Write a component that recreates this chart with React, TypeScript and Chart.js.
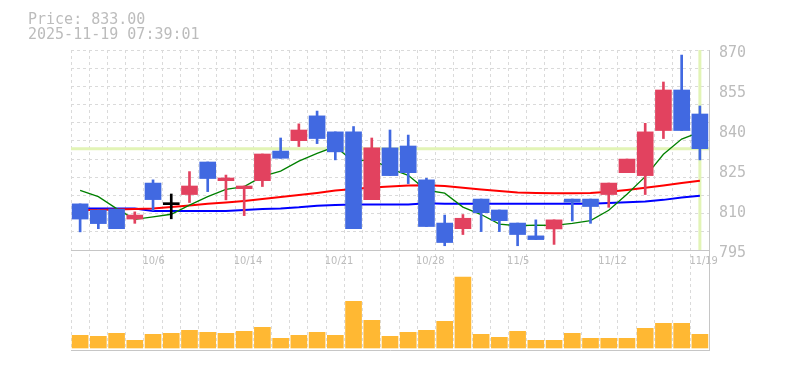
import React, { useEffect, useRef } from 'react';
import { Chart, registerables } from 'chart.js';

Chart.register(...registerables);

// ---- data ----
const dates = [
  '9/30', '10/1', '10/2', '10/3', '10/6', '10/7', '10/8', '10/9', '10/10', '10/14',
  '10/15', '10/16', '10/17', '10/20', '10/21', '10/22', '10/23', '10/24', '10/27', '10/28',
  '10/29', '10/30', '10/31', '11/4', '11/5', '11/6', '11/7', '11/10', '11/11', '11/12',
  '11/13', '11/14', '11/17', '11/18', '11/19',
];
const opens = [
  812.3, 810.0, 810.3, 806.6, 820.1, 812.0, 815.8, 828.0, 821.0, 818.0,
  821.0, 832.1, 836.0, 845.3, 839.3, 839.3, 813.9, 833.3, 834.0, 821.3,
  805.1, 803.0, 814.1, 810.0, 805.1, 800.3, 802.9, 814.1, 814.1, 815.8,
  824.0, 822.9, 839.8, 855.0, 846.0,
];
const highs = [
  812.3, 810.0, 810.3, 809.3, 821.3, 816.0, 824.4, 828.0, 823.1, 819.0,
  831.0, 837.0, 842.3, 847.1, 839.3, 841.3, 837.0, 840.0, 838.1, 821.9,
  808.1, 808.3, 814.1, 810.0, 805.1, 806.3, 806.3, 814.1, 814.1, 820.1,
  829.1, 842.5, 858.0, 868.1, 849.0,
];
const lows = [
  801.8, 803.0, 803.0, 805.0, 809.8, 806.7, 812.8, 816.9, 813.8, 807.9,
  818.8, 829.4, 833.8, 834.9, 828.8, 803.0, 813.9, 822.9, 819.9, 803.8,
  796.6, 800.8, 801.9, 801.9, 796.6, 798.9, 797.1, 805.9, 805.0, 811.0,
  824.0, 815.8, 836.8, 839.8, 828.8,
];
const closes = [
  806.6, 804.9, 803.0, 808.1, 813.9, 812.0, 819.0, 821.8, 822.0, 819.0,
  831.0, 829.4, 840.0, 836.8, 831.8, 803.0, 833.3, 822.9, 824.0, 803.8,
  797.8, 806.9, 809.0, 806.0, 800.8, 798.9, 806.3, 812.9, 811.3, 820.1,
  829.1, 839.3, 855.0, 839.8, 833.0,
];
const volumes = [
  3800, 3500, 4400, 2300, 4100, 4400, 5300, 4700, 4400, 5000,
  6200, 2900, 3800, 4700, 3800, 14000, 8300, 3500, 4700, 5300,
  8000, 21300, 4100, 3200, 5000, 2300, 2300, 4400, 2900, 2900,
  2900, 5900, 7400, 7400, 4100,
];
const ma5 = [
  817.4, 815.0, 810.5, 806.5, 807.4, 808.4, 811.8, 815.0, 817.7, 818.8,
  822.6, 824.6, 828.3, 831.2, 833.8, 828.2, 829.0, 825.5, 823.0, 817.4,
  816.3, 811.1, 808.3, 804.7, 804.1, 804.3, 804.2, 805.0, 806.0, 809.9,
  815.9, 822.5, 830.9, 836.6, 839.2,
];
const ma25 = [
  810.0, 810.0, 810.2, 810.4, 810.6, 811.1, 811.7, 812.3, 812.8, 813.4,
  814.1, 814.9, 815.6, 816.4, 817.3, 817.9, 818.4, 818.8, 819.2, 819.3,
  819.0, 818.3, 817.7, 817.1, 816.6, 816.4, 816.3, 816.3, 816.4, 816.8,
  817.5, 818.3, 819.2, 820.1, 821.0,
];
const ma75 = [
  810.6, 810.6, 810.6, 810.6, 809.6, 809.6, 809.6, 809.6, 809.6, 810.0,
  810.4, 810.6, 811.0, 811.6, 811.9, 812.1, 812.1, 812.1, 812.1, 812.5,
  812.3, 812.3, 812.3, 812.3, 812.3, 812.3, 812.3, 812.3, 812.3, 812.6,
  812.9, 813.2, 813.8, 814.7, 815.3,
];
const priceTicks = [795, 810, 825, 840, 855, 870];
const shownDates = ['10/6', '10/14', '10/21', '10/28', '11/5', '11/12', '11/19'];
const currentPrice = 833;
const headerLines = ['Price: 833.00', '2025-11-19 07:39:01'];

// ---- styling / scale setup ----
const PRICE_LOW = 795;
const PRICE_HIGH = 870;
const PRICE_MIN = 757.5; // leaves room for the volume pane below
const GRID_DIVS = 11;
const VOL_MIN = -600;
const VOL_MAX = 89400;

const UP = '#e2425f';
const DOWN = '#4169e1';
const EVEN = '#000000';
const VOL = '#ffb833';
const GRID = '#dadada';
const AXIS = '#c6c6c6';
const TEXT = '#bcbcbc';
const CUR = '#e2f4b6';
const MONO = '"DejaVu Sans Mono", "Liberation Mono", monospace';
const NARROW = '"DejaVu Sans Condensed", "DejaVu Sans Mono", monospace';

const candleColors = closes.map((c, i) => (c > opens[i] ? UP : c < opens[i] ? DOWN : EVEN));
const gridValues = Array.from({ length: GRID_DIVS }, (_, k) => PRICE_LOW + ((k + 1) * (PRICE_HIGH - PRICE_LOW)) / GRID_DIVS);

const overlay = {
  id: 'overlay',
  beforeDatasetsDraw(chart: any) {
    const { ctx, chartArea, scales } = chart;
    const y = scales.y.getPixelForValue(currentPrice);
    const x = scales.x.getPixelForValue(dates.length - 1);
    const yb = scales.y.getPixelForValue(PRICE_LOW);
    ctx.save();
    ctx.strokeStyle = CUR;
    ctx.lineWidth = 3;
    ctx.beginPath();
    ctx.moveTo(chartArea.left, y);
    ctx.lineTo(chartArea.right, y);
    ctx.moveTo(x, chartArea.top);
    ctx.lineTo(x, yb);
    ctx.stroke();
    ctx.restore();
  },
  afterDraw(chart: any) {
    const { ctx } = chart;
    ctx.save();
    ctx.fillStyle = TEXT;
    ctx.font = `15px ${MONO}`;
    ctx.textBaseline = 'alphabetic';
    ctx.textAlign = 'left';
    ctx.fillText(headerLines[0], 28, 23.5);
    ctx.fillText(headerLines[1], 28, 38.5);
    ctx.restore();
  },
};

export default function App() {
  const ref = useRef<HTMLCanvasElement | null>(null);

  useEffect(() => {
    if (!ref.current) return;
    const chart = new Chart(ref.current, {
      type: 'bar',
      data: {
        labels: dates,
        datasets: [
          {
            type: 'bar',
            label: 'body',
            data: opens.map((o, i) => [o, closes[i]]) as any,
            backgroundColor: candleColors,
            barThickness: 16,
            minBarLength: 2,
            grouped: false,
            xAxisID: 'x',
            yAxisID: 'y',
            order: 1,
          } as any,
          {
            type: 'bar',
            label: 'wick',
            data: lows.map((l, i) => [l, highs[i]]) as any,
            backgroundColor: candleColors,
            barThickness: 2,
            grouped: false,
            xAxisID: 'x',
            yAxisID: 'y',
            order: 2,
          } as any,
          {
            type: 'bar',
            label: 'volume',
            data: volumes,
            backgroundColor: VOL,
            barThickness: 16,
            grouped: false,
            xAxisID: 'x',
            yAxisID: 'yv',
            order: 3,
          } as any,
          {
            type: 'line',
            label: 'MA5',
            data: ma5,
            borderColor: '#008000',
            borderWidth: 1.3,
            pointRadius: 0,
            tension: 0,
            fill: false,
            xAxisID: 'x',
            yAxisID: 'y',
            order: 5,
          } as any,
          {
            type: 'line',
            label: 'MA25',
            data: ma25,
            borderColor: '#ff0000',
            borderWidth: 2,
            pointRadius: 0,
            tension: 0,
            fill: false,
            xAxisID: 'x',
            yAxisID: 'y',
            order: 6,
          } as any,
          {
            type: 'line',
            label: 'MA75',
            data: ma75,
            borderColor: '#0000ff',
            borderWidth: 2,
            pointRadius: 0,
            tension: 0,
            fill: false,
            xAxisID: 'x',
            yAxisID: 'y',
            order: 7,
          } as any,
        ],
      },
      options: {
        responsive: false,
        animation: false,
        events: [],
        layout: { padding: { left: 71, top: 50, right: 0, bottom: 20 } },
        plugins: { legend: { display: false }, tooltip: { enabled: false } },
        scales: {
          x: {
            type: 'category',
            position: 'bottom',
            offset: true,
            grid: { offset: true, color: GRID, drawTicks: false, lineWidth: 1 },
            border: { display: true, color: AXIS, dash: [3, 3] },
            ticks: { display: false },
            afterFit: (s: any) => { s.height = 0; },
          },
          xd: {
            type: 'category',
            position: { y: PRICE_LOW },
            offset: true,
            grid: { display: false, drawTicks: false },
            border: { display: true, color: AXIS },
            ticks: {
              autoSkip: false,
              maxRotation: 0,
              minRotation: 0,
              align: 'start',
              labelOffset: -10.5,
              padding: 5,
              color: TEXT,
              font: { family: NARROW, size: 11 },
              callback: (_v: any, i: number) => (shownDates.includes(dates[i]) ? dates[i] : ''),
            },
          },
          y: {
            type: 'linear',
            position: 'left',
            min: PRICE_MIN,
            max: PRICE_HIGH,
            afterBuildTicks: (s: any) => { s.ticks = gridValues.map((v) => ({ value: v })); },
            grid: { color: GRID, drawTicks: false, lineWidth: 1 },
            border: { display: false, dash: [3, 3] },
            ticks: { display: false },
            afterFit: (s: any) => { s.width = 0; },
          },
          yl: {
            type: 'linear',
            position: 'right',
            min: PRICE_MIN,
            max: PRICE_HIGH,
            afterBuildTicks: (s: any) => { s.ticks = priceTicks.map((v) => ({ value: v })); },
            grid: { display: false, drawTicks: false },
            border: { display: true, color: AXIS },
            ticks: {
              color: TEXT,
              padding: 10,
              labelOffset: 3,
              font: { family: MONO, size: 15 },
              callback: (v: any) => String(v),
            },
            afterFit: (s: any) => { s.width = 76; },
          },
          yv: {
            type: 'linear',
            display: false,
            min: VOL_MIN,
            max: VOL_MAX,
          },
        },
      } as any,
      plugins: [overlay],
    });
    return () => chart.destroy();
  }, []);

  return (
    <div style={{ position: 'absolute', left: 0, top: 0, width: 785, height: 370, background: '#fff' }}>
      <canvas ref={ref} width={785} height={370} style={{ width: 785, height: 370, display: 'block' }} />
    </div>
  );
}
